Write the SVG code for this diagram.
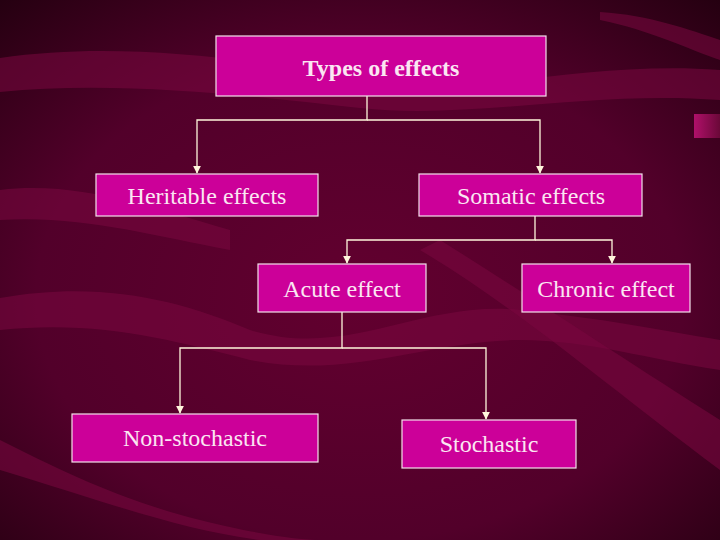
<svg xmlns="http://www.w3.org/2000/svg" width="720" height="540" viewBox="0 0 720 540">
<defs>
<radialGradient id="bg" cx="0.5" cy="0.55" r="0.75">
<stop offset="0" stop-color="#62002f"/>
<stop offset="0.6" stop-color="#52002a"/>
<stop offset="1" stop-color="#240010"/>
</radialGradient>
<linearGradient id="tab" x1="0" y1="0" x2="1" y2="0">
<stop offset="0" stop-color="#b0106a"/>
<stop offset="1" stop-color="#6a0838"/>
</linearGradient>
<marker id="arr" viewBox="0 0 10 10" refX="9" refY="5" markerWidth="8" markerHeight="8" markerUnits="userSpaceOnUse" orient="auto">
<path d="M0,0 L10,5 L0,10 z" fill="#fff6dc"/>
</marker>
<style>
.box{fill:#cc0099;stroke:#f2e0ea;stroke-width:1.2}
.t{font-family:"Liberation Serif","Times New Roman",serif;fill:#fbe6f2;text-anchor:middle;font-size:24px}
.tb{font-weight:bold;font-size:24px}
.c{fill:none;stroke:#fff6dc;stroke-width:1.3}
.sw{fill:#7a0840;opacity:0.55}
</style>
</defs>
<rect width="720" height="540" fill="url(#bg)"/>
<g id="background">
<path class="sw" d="M0,58 C120,40 260,60 360,80 C470,100 580,60 720,70 L720,100 C590,90 470,120 360,108 C250,96 120,80 0,92 Z"/>
<path class="sw" d="M0,298 C100,280 180,300 250,330 C350,360 420,300 520,310 C600,318 660,330 720,340 L720,370 C650,360 590,340 520,340 C430,340 350,380 250,360 C170,340 100,320 0,330 Z"/>
<path class="sw" d="M0,440 C60,470 120,500 200,520 C260,535 300,540 320,540 L260,540 C180,530 100,500 0,470 Z"/>
<path class="sw" d="M420,250 C520,310 600,380 720,470 L720,420 C610,350 520,290 440,240 Z"/>
<path class="sw" d="M0,190 C80,180 160,210 230,230 L230,250 C150,235 80,215 0,220 Z"/>
<path class="sw" d="M600,20 C650,30 690,50 720,60 L720,40 C690,30 650,15 600,12 Z"/>
<rect x="694" y="114" width="26" height="24" fill="url(#tab)"/>
</g>
<g id="connectors">
<path class="c" d="M367,96 V120 H197 V173" marker-end="url(#arr)"/>
<path class="c" d="M367,120 H540 V173" marker-end="url(#arr)"/>
<path class="c" d="M535,216 V240 H347 V263" marker-end="url(#arr)"/>
<path class="c" d="M535,240 H612 V263" marker-end="url(#arr)"/>
<path class="c" d="M342,312 V348 H180 V413" marker-end="url(#arr)"/>
<path class="c" d="M342,348 H486 V419" marker-end="url(#arr)"/>
</g>
<g id="types">
<rect class="box" x="216" y="36" width="330" height="60"/>
<text class="t tb" x="381" y="76">Types of effects</text>
</g>
<g id="heritable">
<rect class="box" x="96" y="174" width="222" height="42"/>
<text class="t" x="207" y="204">Heritable effects</text>
</g>
<g id="somatic">
<rect class="box" x="419" y="174" width="223" height="42"/>
<text class="t" x="531" y="204">Somatic effects</text>
</g>
<g id="acute">
<rect class="box" x="258" y="264" width="168" height="48"/>
<text class="t" x="342" y="297">Acute effect</text>
</g>
<g id="chronic">
<rect class="box" x="522" y="264" width="168" height="48"/>
<text class="t" x="606" y="297">Chronic effect</text>
</g>
<g id="nonstochastic">
<rect class="box" x="72" y="414" width="246" height="48"/>
<text class="t" x="195" y="446">Non-stochastic</text>
</g>
<g id="stochastic">
<rect class="box" x="402" y="420" width="174" height="48"/>
<text class="t" x="489" y="452">Stochastic</text>
</g>
</svg>
